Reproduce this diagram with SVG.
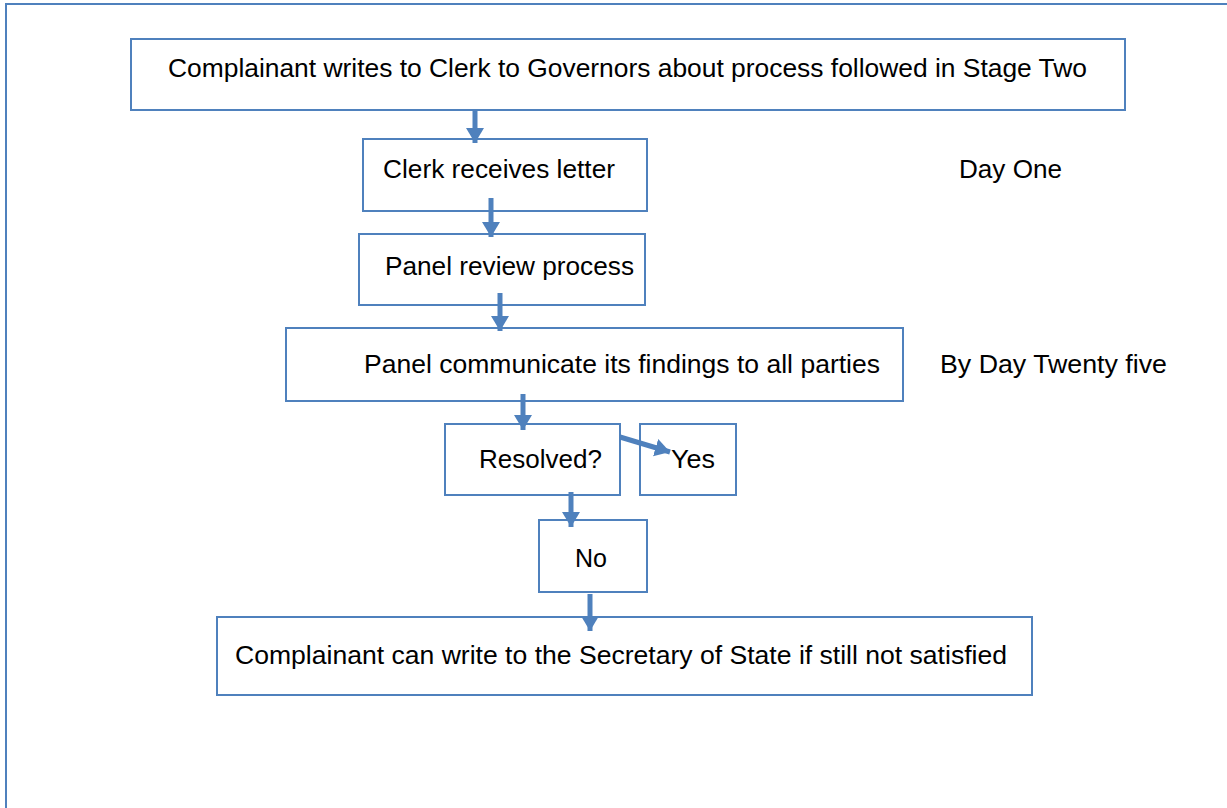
<svg xmlns="http://www.w3.org/2000/svg" width="1227" height="808" viewBox="0 0 1227 808">
<defs>
<style>
.box{fill:#fff;stroke:#4f81bd;stroke-width:2}
.t{font-family:"Liberation Sans",Arial,sans-serif;font-size:25px;fill:#000}
.c{stroke:#4f81bd;stroke-width:5;fill:none}
</style>
<marker id="ah" markerUnits="userSpaceOnUse" markerWidth="20" markerHeight="20" refX="15" refY="9" orient="auto">
<path d="M0,0 L15,9 L0,18 Z" fill="#4f81bd"/>
</marker>
</defs>
<rect x="0" y="0" width="1227" height="808" fill="#fff"/>
<rect x="6" y="4" width="1240" height="820" fill="none" stroke="#4f81bd" stroke-width="2"/>
<g id="n1"><rect class="box" x="131" y="39" width="994" height="71"/><text class="t" x="168" y="77" textLength="919" lengthAdjust="spacingAndGlyphs">Complainant writes to Clerk to Governors about process followed in Stage Two</text></g>
<g id="n2"><rect class="box" x="363" y="139" width="284" height="72"/><text class="t" x="383" y="178" textLength="232" lengthAdjust="spacingAndGlyphs">Clerk receives letter</text></g>
<g id="l1"><text class="t" x="959" y="178" textLength="103" lengthAdjust="spacingAndGlyphs">Day One</text></g>
<g id="n3"><rect class="box" x="359" y="234" width="286" height="71"/><text class="t" x="385" y="275" textLength="249" lengthAdjust="spacingAndGlyphs">Panel review process</text></g>
<g id="n4"><rect class="box" x="286" y="328" width="617" height="73"/><text class="t" x="364" y="373" textLength="516" lengthAdjust="spacingAndGlyphs">Panel communicate its findings to all parties</text></g>
<g id="l2"><text class="t" x="940" y="373" textLength="227" lengthAdjust="spacingAndGlyphs">By Day Twenty five</text></g>
<g id="n5"><rect class="box" x="445" y="424" width="175" height="71"/><text class="t" x="479" y="468" textLength="123" lengthAdjust="spacingAndGlyphs">Resolved?</text></g>
<g id="n6"><rect class="box" x="640" y="424" width="96" height="71"/><text class="t" x="671" y="468" textLength="44" lengthAdjust="spacingAndGlyphs">Yes</text></g>
<g id="n7"><rect class="box" x="539" y="520" width="108" height="72"/><text class="t" x="575" y="567" textLength="32" lengthAdjust="spacingAndGlyphs">No</text></g>
<g id="n8"><rect class="box" x="217" y="617" width="815" height="78"/><text class="t" x="235" y="664" textLength="772" lengthAdjust="spacingAndGlyphs">Complainant can write to the Secretary of State if still not satisfied</text></g>
<g id="connectors">
<line class="c" x1="475" y1="110" x2="475" y2="143" marker-end="url(#ah)"/>
<line class="c" x1="491" y1="198" x2="491" y2="237" marker-end="url(#ah)"/>
<line class="c" x1="500" y1="293" x2="500" y2="331" marker-end="url(#ah)"/>
<line class="c" x1="523" y1="394" x2="523" y2="430" marker-end="url(#ah)"/>
<line class="c" x1="620" y1="437" x2="670" y2="452" marker-end="url(#ah)"/>
<line class="c" x1="571" y1="492" x2="571" y2="527" marker-end="url(#ah)"/>
<line class="c" x1="590" y1="594" x2="590" y2="631" marker-end="url(#ah)"/>
</g>
</svg>
